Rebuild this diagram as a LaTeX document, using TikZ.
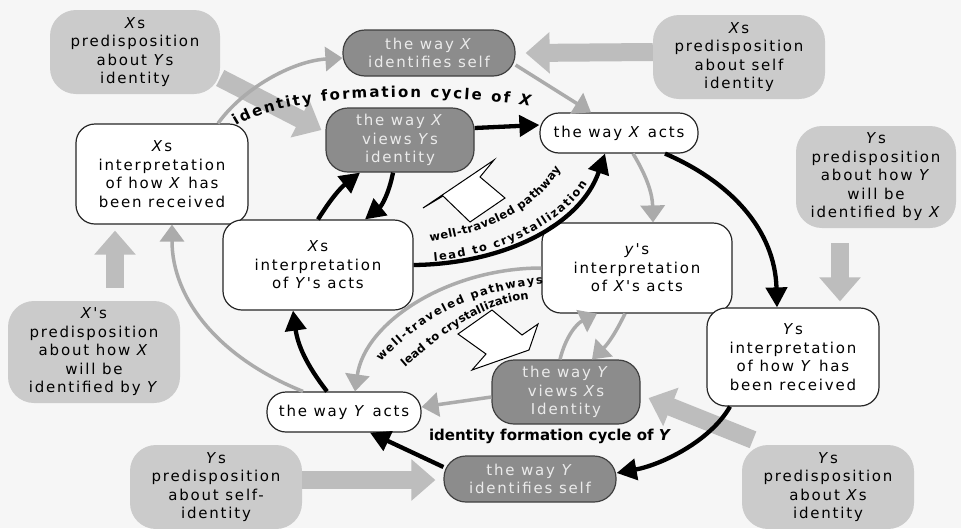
\documentclass[tikz,border=0pt]{standalone}
\usepackage{fontspec}
\setmainfont{DejaVu Sans}
\newfontfamily\boxfamily[LetterSpace=12]{DejaVu Sans}
\usetikzlibrary{arrows.meta,decorations.text}
\definecolor{pagebg}{HTML}{F6F6F6}
\definecolor{predfill}{HTML}{CBCBCB}
\definecolor{viewfill}{HTML}{8C8C8C}
\definecolor{boxwhite}{HTML}{EBEBEB}
\definecolor{blockgray}{HTML}{BDBDBD}
\definecolor{thingray}{HTML}{ABABAB}
\newcommand{\vX}{\textit{X}}
\newcommand{\vY}{\textit{Y}}
\newcommand{\boxtext}{\boxfamily\fontsize{15}{18.5}\selectfont}
\newcommand{\cyclefont}{\fontsize{15}{18}\selectfont\bfseries}
\newcommand{\pathfont}{\fontsize{11.5}{14}\selectfont\bfseries}
\begin{document}
\begin{tikzpicture}[x=1pt,y=-1pt,
  predbox/.style={fill=predfill, rounded corners=26pt, align=center, inner sep=0pt, font=\boxtext},
  viewbox/.style={fill=viewfill, draw=black!75, line width=1.2pt, rounded corners=22pt,
                  text=boxwhite, align=center, inner sep=0pt, font=\boxtext},
  plainbox/.style={fill=white, draw=black!85, line width=1.2pt, rounded corners=19pt,
                   align=center, inner sep=0pt, font=\boxtext},
  bk/.style={draw=black, line width=4.3pt, -{Triangle[length=20pt,width=21pt]}},
  gt/.style={draw=thingray, line width=3.5pt, -{Triangle[length=17pt,width=24pt]}},
  ba/.style={draw=blockgray, line width=18pt, -{Triangle[length=24pt,width=40pt]}},
  callout/.style={fill=white, draw=black, line width=1pt, line join=miter},
  pathtext/.style={decorate, decoration={text along path,
      text={|\pathfont|#1}, text align=fit to path}},
]
% page
\fill[pagebg] (0,0) rectangle (961,528);
\useasboundingbox (0,0) rectangle (961,528);

% ---------- boxes ----------
\node[predbox, minimum width=170pt, minimum height=84pt] (pXY) at (135,52)
  {\vX s\\predisposition\\about \vY s\\identity};
\node[viewbox, minimum width=172pt, minimum height=46pt] (Xself) at (429,53)
  {the way \vX\\identifies self};
\node[predbox, minimum width=172pt, minimum height=84pt] (pXself) at (739,57)
  {\vX s\\predisposition\\about self\\identity};
\node[plainbox, minimum width=172pt, minimum height=100pt] (Xrec) at (162,174)
  {\vX s\\interpretation\\of how \vX\ has\\been received};
\node[viewbox, minimum width=148pt, minimum height=64pt] (Xview) at (400,140)
  {the way \vX\\views \vY s\\identity};
\node[plainbox, minimum width=158pt, minimum height=40pt] (Xact) at (619,133)
  {the way \vX\ acts};
\node[plainbox, minimum width=190pt, minimum height=90pt] (XiY) at (318,265)
  {\vX s\\interpretation\\of \vY's acts};
\node[plainbox, minimum width=190pt, minimum height=90pt] (YiX) at (637,268)
  {\textit{y}'s\\interpretation\\of \vX's acts};
\node[predbox, minimum width=160pt, minimum height=102pt] (pYhow) at (876,177)
  {\vY s\\predisposition\\about how \vY\\will be\\identified by \vX};
\node[plainbox, minimum width=172pt, minimum height=98pt] (Yrec) at (793,357)
  {\vY s\\interpretation\\of how \vY\ has\\been received};
\node[predbox, minimum width=172pt, minimum height=102pt] (pXhow) at (94,352)
  {\vX's\\predisposition\\about how \vX\\will be\\identified by \vY};
\node[viewbox, minimum width=148pt, minimum height=64pt] (Yview) at (566,392)
  {the way \vY\\views \vX s\\Identity};
\node[plainbox, minimum width=154pt, minimum height=40pt] (Yact) at (344,412)
  {the way \vY\ acts};
\node[viewbox, minimum width=172pt, minimum height=46pt] (Yself) at (530,479)
  {the way \vY\\identifies self};
\node[predbox, minimum width=172pt, minimum height=84pt] (pYself) at (216,487)
  {\vY s\\predisposition\\about self-\\identity};
\node[predbox, minimum width=172pt, minimum height=84pt] (pYX) at (828,487)
  {\vY s\\predisposition\\about \vX s\\identity};

% ---------- predisposition inputs ----------
\draw[ba] ([yshift=-26pt]pXY.east) -- ([xshift=-4pt,yshift=10pt]Xview.west);
\draw[ba] ([yshift=5pt]pXself.west) -- ([xshift=10pt]Xself.east);
\draw[ba] ([xshift=-36pt,yshift=-15pt]pYhow.south) -- ([xshift=47pt,yshift=6pt]Yrec.north);
\draw[ba] ([xshift=21pt,yshift=13pt]pXhow.north) -- ([xshift=-47pt,yshift=-6pt]Xrec.south);
\draw[ba] ([yshift=7pt]pYself.east) -- ([xshift=-8pt,yshift=-1pt]Yself.west);
\draw[ba] ([xshift=-75pt,yshift=5pt]pYX.north) -- ([xshift=8pt,yshift=-6pt]Yview.east);

% ---------- hollow callouts ----------
\draw[callout] (505,198) -- (470,222) -- (443,196) -- (423,208) -- (494,160) -- (480,177) -- cycle;
\draw[callout] (458,334) -- (492,310) -- (522,335) -- (538,324) -- (529,350) -- (472,370) -- (486,354) -- cycle;

% ---------- grey links ----------
\draw[gt] ([yshift=-12pt]Xself.east) -- ([xshift=-28pt]Xact.north);
\draw[gt] ([xshift=56pt]Xrec.north) .. controls +(25,-35) and +(-50,3) .. ([yshift=-5pt]Xself.west);
\draw[gt] ([xshift=14pt]Xact.south) to[bend left=15] ([xshift=16pt]YiX.north);
\draw[gt] ([xshift=-6pt]Yview.north) to[bend left=25] ([xshift=-40pt]YiX.south);
\draw[gt] ([xshift=-12pt]YiX.south) to[bend left=10] ([xshift=26pt]Yview.north);
\draw[gt] ([yshift=-5pt]Yview.west) -- ([yshift=5pt]Yact.east);
\draw[gt] (YiX.west) .. controls +(-92,0) and +(10,-70) .. ([xshift=11pt]Yact.north);
\draw[gt] ([xshift=-41pt]Yact.north) .. controls +(-83,-33) and +(0,75) .. ([xshift=10pt]Xrec.south);

% ---------- black cycle links ----------
\draw[bk] ([yshift=12pt]Xview.east) -- ([yshift=8pt]Xact.west);
\draw[bk] (XiY.north) to[bend left=10] ([xshift=-40pt]Xview.south);
\draw[bk] ([xshift=-7pt]Xview.south) to[bend left=20] ([xshift=47pt]XiY.north);
\draw[bk] (XiY.east) .. controls +(88,-1) and +(-25,73) .. ([xshift=-14pt]Xact.south);
\draw[bk] ([xshift=46pt]Xact.south) .. controls +(65,28) and +(-2,-78) .. ([xshift=-16pt]Yrec.north);
\draw[bk] ([xshift=-63pt]Yrec.south) .. controls +(-20,35) and +(44,-8) .. ([yshift=6pt]Yself.east);
\draw[bk] ([yshift=12pt]Yself.west) -- ([xshift=26pt]Yact.south);
\draw[bk] ([xshift=-17pt]Yact.north) to[bend left=15] ([xshift=-25pt]XiY.south);

% ---------- lettering along the shortcut pathways ----------
\coordinate (wxa) at (430,241);  \coordinate (wxb) at (561,169);
\coordinate (lxa) at (434,261);  \coordinate (lxb) at (587,184);
\path[pathtext={well-traveled pathway}]
  (wxa) .. controls (488,234) and (537,208) .. (wxb);
\path[pathtext={lead to crystallization}]
  (lxa) .. controls (500,255) and (562,224) .. (lxb);
\coordinate (wya) at (381,362);  \coordinate (wyb) at (543,284);
\coordinate (lya) at (405,367);  \coordinate (lyb) at (529,299);
\path[pathtext={well-traveled pathways}]
  (wya) .. controls (420,320) and (470,291) .. (wyb);
\path[pathtext={lead to crystallization}]
  (lya) .. controls (443,334) and (481,304) .. (lyb);

% ---------- cycle titles ----------
\coordinate (cycXa) at (236,126);
\coordinate (cycXb) at (530,106);
\path[decorate, decoration={text along path,
    text={|\cyclefont|identity formation cycle of |\cyclefont\itshape|X}, text align=fit to path}]
  (cycXa) .. controls (290,92) and (440,92) .. (cycXb);
\node[font=\cyclefont, inner sep=0pt] (cycY) at (550,436) {identity formation cycle of \textit{Y}};
\end{tikzpicture}
\end{document}
